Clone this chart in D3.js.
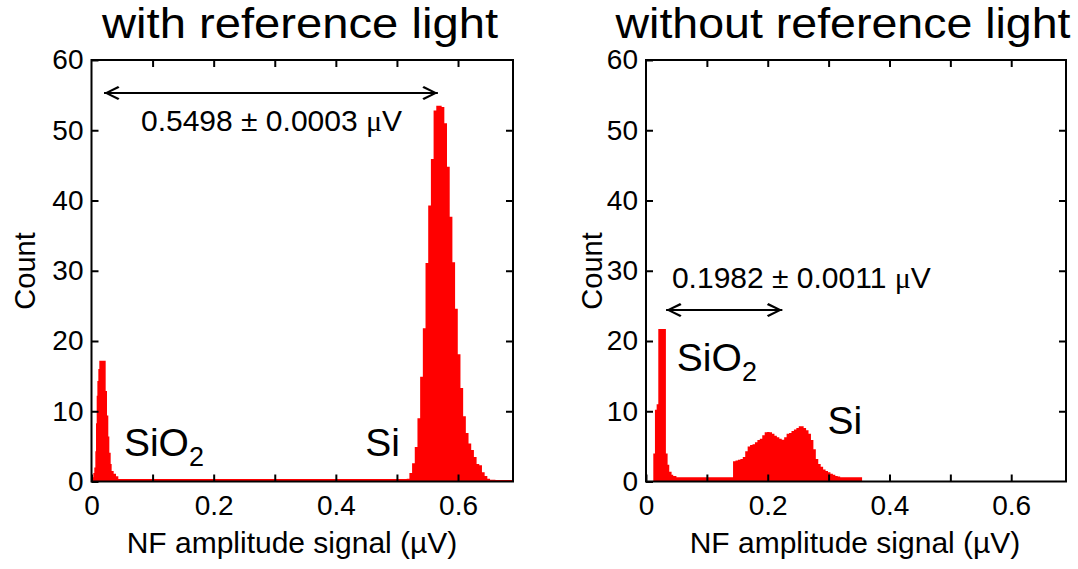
<!DOCTYPE html>
<html>
<head>
<meta charset="utf-8">
<script src="https://cdn.jsdelivr.net/npm/d3@7"></script>
<style>
  body { margin: 0; background: #fff; }
  text { font-family: "Liberation Sans", Arial, sans-serif; fill: #000; }
</style>
</head>
<body>
<svg id="chart" width="1078" height="569"></svg>
<script>

// ---------------------------------------------------------
// values
// ---------------------------------------------------------

var xTicks      = [0, 0.1, 0.2, 0.3, 0.4, 0.5, 0.6];
var xTickLabels = ["0", "", "0.2", "", "0.4", "", "0.6"];
var yTicks      = [0, 10, 20, 30, 40, 50, 60];

var panelTitles = ["with reference light", "without reference light"];

// left panel: SiO2 peak + flat floor (uneven bin edges)
var withSiO2Edges  = [0.0014, 0.003, 0.0046, 0.0063, 0.0074, 0.0085, 0.0096, 0.0112, 0.0128,
                      0.0232, 0.0254, 0.0275, 0.0292, 0.0314, 0.033, 0.0363, 0.0401, 0.0439, 0.516];
var withSiO2Counts = [0.6, 1.2, 2.0, 4.3, 8.3, 12.2, 14.3, 16.0, 17.2,
                      12.9, 9.4, 6.4, 4.1, 2.5, 1.5, 1.1, 0.75, 0.35];

// left panel: Si peak, even bins
var withSiStart  = 0.516;
var withSiBin    = 0.0044;
var withSiCounts = [0.4, 1.2, 2.6, 4.9, 9.0, 14.9, 21.8, 31.1, 39.3, 45.9,
                    52.8, 53.5, 53.5, 53.3, 51.0, 44.8, 37.7, 31.2, 24.6, 18.1,
                    13.3, 9.3, 6.9, 5.4, 4.5, 3.5, 2.5, 2.3, 1.3, 0.8,
                    0.4, 0.25, 0.25, 0.2, 0.2, 0.2, 0.2, 0.2, 0.2, 0.2];

// right panel: SiO2 peak + floor
var withoutSiO2Edges  = [0.012, 0.0147, 0.0175, 0.0202, 0.0327, 0.0355, 0.0382, 0.042, 0.0447, 0.050, 0.143];
var withoutSiO2Counts = [4.0, 10.2, 11.0, 21.7, 4.0, 2.4, 1.4, 0.95, 0.8, 0.6];

// right panel: Si double hump, even bins
var withoutSiStart  = 0.143;
var withoutSiBin    = 0.004;
var withoutSiCounts = [2.9, 3.0, 3.1, 3.2, 3.5, 4.3, 5.0, 5.2, 5.3, 5.6,
                       5.9, 6.1, 6.6, 7.0, 7.05, 7.0, 6.8, 6.5, 6.3, 6.1,
                       5.95, 6.3, 6.8, 6.9, 7.2, 7.4, 7.6, 7.85, 7.85, 7.6,
                       7.3, 6.8, 5.9, 4.6, 3.2, 2.5, 2.1, 1.7, 1.5, 1.3,
                       1.1, 0.95, 0.8, 0.7, 0.6, 0.6, 0.6, 0.6, 0.6, 0.6,
                       0.6, 0.6, 0.6];

// annotations: arrow ends (x), arrow height (count), text
var arrowEnds   = [[0.0205, 0.567], [0.033, 0.224]];
var arrowLevel  = [55.3, 24.4];
var gapValue    = ["0.5498 \u00b1 0.0003 ", "0.1982 \u00b1 0.0011 "];
var gapTextAt   = [[0.081, 49.9], [0.0426, 27.5]];

// peak labels: [x, count] of baseline start
var sio2LabelAt = [[0.053, 3.6], [0.0507, 15.7]];
var siLabelAt   = [[0.448, 3.6], [0.298, 6.7]];


// ---------------------------------------------------------
// helpers to turn bins into step points
// ---------------------------------------------------------

function binsFromEdges(edges, counts) {
    var out = [];
    for (var i = 0; i < counts.length; i++)
        out.push({x0: edges[i], x1: edges[i + 1], n: counts[i]});
    return out;
}

function binsEven(start, width, counts) {
    return counts.map(function(n, i) {
        return {x0: start + i * width, x1: start + (i + 1) * width, n: n};
    });
}

var histograms = [
    binsFromEdges(withSiO2Edges, withSiO2Counts).concat(binsEven(withSiStart, withSiBin, withSiCounts)),
    binsFromEdges(withoutSiO2Edges, withoutSiO2Counts).concat(binsEven(withoutSiStart, withoutSiBin, withoutSiCounts))
];


// ---------------------------------------------------------
// layout
// ---------------------------------------------------------

var svg = d3.select("#chart");

var top_y = 60, bottom_y = 481.5;
var panels = [
    {x0: 91.5, x1: 513, titleX: 300, titleY: 38, titleW: 396, countX: 35, labelX: 292},
    {x0: 646,  x1: 1066, titleX: 843, titleY: 38, titleW: 455, countX: 602, labelX: 855}
];

var defs = svg.append("defs");

defs.append("marker")
    .attr("id", "head")
    .attr("viewBox", "-16 -8 17 16")
    .attr("markerWidth", 17)
    .attr("markerHeight", 16)
    .attr("markerUnits", "userSpaceOnUse")
    .attr("refX", 0)
    .attr("refY", 0)
    .attr("orient", "auto-start-reverse")
    .append("path")
    .attr("d", "M0,0 L-14,-7 L-15.5,-5.2 L-4.5,0 L-15.5,5.2 L-14,7 Z")
    .attr("fill", "#000");

panels.forEach(function(p, k) {

    var x = d3.scaleLinear().domain([0, 0.69]).range([p.x0, p.x1]);
    var y = d3.scaleLinear().domain([0, 60]).range([bottom_y, top_y]);

    defs.append("clipPath").attr("id", "clip" + k)
        .append("rect")
        .attr("x", p.x0).attr("y", top_y)
        .attr("width", p.x1 - p.x0).attr("height", bottom_y - top_y);

    // histogram as one stepped area
    var bins = histograms[k];
    var pts = bins.map(function(b) { return [b.x0, b.n]; });
    pts.push([bins[bins.length - 1].x1, bins[bins.length - 1].n]);

    var area = d3.area()
        .x(function(d) { return x(d[0]); })
        .y0(y(0))
        .y1(function(d) { return y(d[1]); })
        .curve(d3.curveStepAfter);

    svg.append("path")
        .datum(pts)
        .attr("clip-path", "url(#clip" + k + ")")
        .attr("fill", "#ff0000")
        .attr("d", area);

    // axes, ticks inward on all four sides
    var fmt = function(d, i) { return xTickLabels[i]; };

    var gB = svg.append("g")
        .attr("transform", "translate(0," + bottom_y + ")")
        .call(d3.axisBottom(x).tickValues(xTicks).tickFormat(fmt).tickSize(-7).tickPadding(14));
    var gT = svg.append("g")
        .attr("transform", "translate(0," + top_y + ")")
        .call(d3.axisTop(x).tickValues(xTicks.slice(1)).tickFormat("").tickSize(-7));
    var gL = svg.append("g")
        .attr("transform", "translate(" + p.x0 + ",0)")
        .call(d3.axisLeft(y).tickValues(yTicks).tickSize(-7).tickPadding(8));
    var gR = svg.append("g")
        .attr("transform", "translate(" + p.x1 + ",0)")
        .call(d3.axisRight(y).tickValues(yTicks.slice(1, -1)).tickFormat("").tickSize(-7));

    [gB, gT, gL, gR].forEach(function(g) {
        g.select(".domain").remove();
        g.selectAll(".tick line").attr("stroke", "#000").attr("stroke-width", 2);
        g.selectAll(".tick text")
            .style("font-family", "Liberation Sans, Arial, sans-serif")
            .style("font-size", "28px")
            .attr("fill", "#000");
    });

    // frame
    svg.append("rect")
        .attr("x", p.x0).attr("y", top_y)
        .attr("width", p.x1 - p.x0).attr("height", bottom_y - top_y)
        .attr("fill", "none")
        .attr("stroke", "#000")
        .attr("stroke-width", 2);

    // titles and axis labels
    svg.append("text")
        .attr("x", p.titleX).attr("y", p.titleY)
        .attr("text-anchor", "middle")
        .attr("textLength", p.titleW)
        .attr("lengthAdjust", "spacingAndGlyphs")
        .style("font-size", "42px")
        .text(panelTitles[k]);

    svg.append("text")
        .attr("x", p.labelX).attr("y", 553)
        .attr("text-anchor", "middle")
        .style("font-size", "30px")
        .text("NF amplitude signal (\u00b5V)");

    svg.append("text")
        .attr("transform", "translate(" + p.countX + "," + 271 + ") rotate(-90)")
        .attr("text-anchor", "middle")
        .style("font-size", "29px")
        .text("Count");

    // double arrow + gap value
    svg.append("line")
        .attr("x1", x(arrowEnds[k][0])).attr("x2", x(arrowEnds[k][1]))
        .attr("y1", y(arrowLevel[k])).attr("y2", y(arrowLevel[k]))
        .attr("stroke", "#000")
        .attr("stroke-width", 2)
        .attr("marker-start", "url(#head)")
        .attr("marker-end", "url(#head)");

    var t = svg.append("text")
        .attr("x", x(gapTextAt[k][0])).attr("y", y(gapTextAt[k][1]))
        .style("font-size", "30px")
        .text(gapValue[k]);
    t.append("tspan").style("font-family", "Liberation Serif, Times New Roman, serif").text("\u03bc");
    t.append("tspan").text("V");

    // peak labels
    var s = svg.append("text")
        .attr("x", x(sio2LabelAt[k][0])).attr("y", y(sio2LabelAt[k][1]))
        .style("font-size", "39px")
        .text("SiO");
    s.append("tspan").attr("dy", 10).style("font-size", "27px").text("2");

    svg.append("text")
        .attr("x", x(siLabelAt[k][0])).attr("y", y(siLabelAt[k][1]))
        .style("font-size", "39px")
        .text("Si");
});

</script>
</body>
</html>
